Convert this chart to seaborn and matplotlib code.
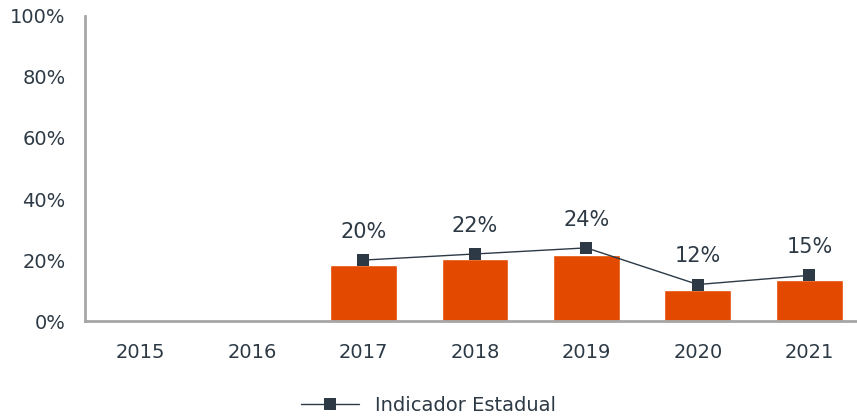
import numpy as np
import pandas as pd
import matplotlib.pyplot as plt
import seaborn as sns

# dados
anos = ['2015', '2016', '2017', '2018', '2019', '2020', '2021']
barras = [np.nan, np.nan, 18.4, 20.3, 21.6, 10.2, 13.4]
indicador = [np.nan, np.nan, 20, 22, 24, 12, 15]
rotulos = ['', '', '20%', '22%', '24%', '12%', '15%']

cor_barra = '#e34a00'
cor_texto = '#2d3a45'
cor_eixo = '#a6a6a6'

sns.set_style('white')
plt.rcParams['font.family'] = ['DejaVu Sans']

df = pd.DataFrame({'ano': anos, 'barra': barras, 'indicador': indicador})
df['pos'] = range(len(anos))

fig = plt.figure(figsize=(8.57, 4.16), dpi=100)
ax = fig.add_axes([0.099, 0.228, 0.9, 0.734])

sns.barplot(data=df, x='ano', y='barra', order=anos, color=cor_barra,
            width=0.6, saturation=1, ax=ax)

d = df.dropna(subset=['indicador'])
sns.lineplot(x=d['pos'], y=d['indicador'], color=cor_texto, linewidth=1,
             marker='s', markersize=9, markeredgewidth=0,
             label='Indicador Estadual', legend=False, ax=ax)

for _, row in d.iterrows():
    ax.annotate(rotulos[row['pos']], (row['pos'], row['indicador']),
                xytext=(0, 13), textcoords='offset points', ha='center',
                va='bottom', fontsize=15, color=cor_texto)

ax.set_xlim(-0.5, 6.42)
ax.set_ylim(0, 100)
ax.set_yticks([0, 20, 40, 60, 80, 100])
ax.set_yticklabels([f'{v}%' for v in [0, 20, 40, 60, 80, 100]])
ax.set_xlabel('')
ax.set_ylabel('')

sns.despine(ax=ax)
for s in ['left', 'bottom']:
    ax.spines[s].set_color(cor_eixo)
    ax.spines[s].set_linewidth(2)
ax.tick_params(axis='both', length=6, width=1.5, color=cor_eixo,
               labelsize=14, labelcolor=cor_texto, direction='out')
ax.tick_params(axis='x', pad=10)
ax.tick_params(axis='y', pad=8)

handles, labels = ax.get_legend_handles_labels()
fig.legend(handles, labels, loc='lower center', bbox_to_anchor=(0.5, -0.04),
           frameon=False, fontsize=14, labelcolor=cor_texto, handlelength=3)

fig.savefig('out.png', dpi=100)
